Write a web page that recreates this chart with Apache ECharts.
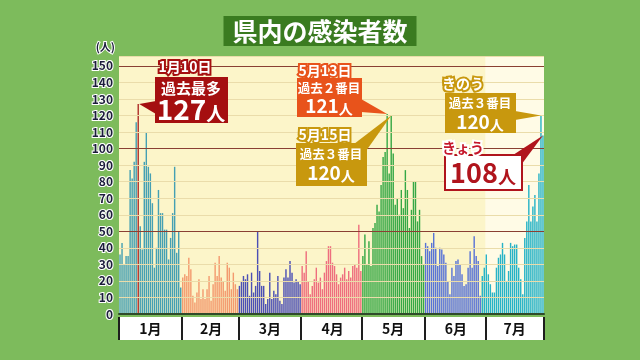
<!DOCTYPE html>
<html><head><meta charset="utf-8">
<script src="https://cdn.jsdelivr.net/npm/echarts@6/dist/echarts.min.js"></script>
<style>html,body{margin:0;padding:0;background:#7dbb5c}#c{width:640px;height:360px}</style>
</head><body><div id="c"></div>
<script>
const titleText = '県内の感染者数';
const unitLabel = '(人)';
const monthLabels = ['1月','2月','3月','4月','5月','6月','7月'];
const jan = [36,43,30,35,35,87,82,92,116,127,53,39,92,110,89,85,67,28,40,75,61,61,51,51,33,46,61,89,37,50,16];
const feb = [22,24,23,34,27,11,7,13,21,9,15,9,15,23,8,18,31,23,35,22,20,14,31,28,15,25,18,15];
const mar = [17,20,23,21,24,11,25,13,17,50,26,17,17,6,9,25,9,14,12,23,8,6,22,27,22,32,25,19,21,20,18];
const apr = [29,25,38,20,12,17,21,28,19,22,15,25,32,41,41,31,29,24,18,22,24,28,21,26,22,29,30,28,54,26];
const may = [35,48,30,44,29,52,55,66,62,78,95,98,121,85,120,97,66,70,60,75,64,87,75,52,63,80,80,56,63,35,30];
const jun = [43,41,38,43,49,40,29,40,39,36,31,20,12,28,23,32,33,30,24,17,18,28,38,28,47,35,32,11,23,28];
const jul = [36,24,18,13,13,28,34,36,43,36,20,26,43,41,42,42,28,21,12,46,56,78,56,65,72,56,85,120,108];

const FONT = '"Noto Sans CJK JP","Noto Sans",sans-serif';
const monthColors = ['#45a0b3','#f39a6e','#4b4fb5','#ee6e7e','#35a845','#5873d6','#27b3c6'];
const months = [jan, feb, mar, apr, may, jun, jul];
const days = [], values = [], monthOf = [], dayOf = [];
const monthStart = new Set(), monthMid = new Set();
months.forEach((arr, m) => {
  monthStart.add(days.length);
  monthMid.add(days.length + Math.floor(arr.length / 2));
  arr.forEach((v, d) => { days.push((m+1) + '/' + (d+1)); values.push(v); monthOf.push(m); dayOf.push(d+1); });
});
const idxOf = (m, d) => days.indexOf(m + '/' + d);
const julStart = idxOf(7, 1);

function barColor(i) {
  const m = monthOf[i], d = dayOf[i];
  if (m === 0 && d === 10) return '#b0302a';
  if (m === 5 && d >= 29) return monthColors[6];
  return monthColors[m];
}

const chart = echarts.init(document.getElementById('c'), null, {renderer: 'canvas'});
const option = {
  backgroundColor: '#7dbb5c',
  animation: false,
  title: {
    text: titleText, left: 'center', top: 16, padding: [2, 9], backgroundColor: '#3a7b20',
    textStyle: {color: '#fff', fontSize: 25, fontWeight: 'bold', fontFamily: FONT, lineHeight: 26}
  },
  grid: {left: 119, right: 96, top: 56, bottom: 46, show: true, backgroundColor: '#fcf5c9', borderWidth: 0},
  xAxis: [
    {type: 'category', data: days, z: 4,
     axisLine: {lineStyle: {color: '#2f4a2a', width: 2}}, axisTick: {show: false}, axisLabel: {show: false}},
    {type: 'category', data: days, position: 'bottom', offset: 3,
     axisLine: {show: false},
     axisTick: {show: true, length: 23, interval: (i) => monthStart.has(i), lineStyle: {color: '#1e1e1e', width: 2}},
     axisLabel: {interval: (i) => monthMid.has(i), formatter: (v, i) => monthLabels[monthOf[i]], margin: 5,
       color: '#111', fontSize: 14, fontWeight: 'bold', fontFamily: FONT}}
  ],
  yAxis: {
    type: 'value', min: 0, max: 156, interval: 10, z: 3,
    name: unitLabel, nameLocation: 'end', nameGap: 4,
    nameTextStyle: {align: 'right', padding: [0, 4, 0, 0], color: '#1b1d3a', fontSize: 11, fontWeight: 'bold', fontFamily: FONT, textBorderColor: '#fff', textBorderWidth: 2},
    axisLine: {show: false}, axisTick: {show: false},
    axisLabel: {formatter: (v) => v > 150 ? '' : String(v), margin: 6, color: '#1b1d3a', fontSize: 12, fontWeight: 'bold', fontFamily: FONT, textBorderColor: '#fff', textBorderWidth: 2},
    splitLine: {lineStyle: {color: ['#8a3f33','#eadcaa','#eadcaa','#eadcaa','#eadcaa'], width: 1}}
  },
  series: [{
    type: 'bar', xAxisIndex: 0, barCategoryGap: '30%',
    data: values.map((v, i) => ({value: v, itemStyle: {color: barColor(i)}}))
  }],
  graphic: [{type: 'rect', z: -10, shape: {x: 119, y: 317, width: 426, height: 23}, style: {fill: '#fff'}}]
};
chart.setOption(option);

// light background for the current month: from the July 1 band edge to the plot's right edge
const gridRect = chart.getModel().getComponent('grid', 0).coordinateSystem.getRect();
const p0 = chart.convertToPixel({xAxisIndex: 0}, days[julStart]);
const p1 = chart.convertToPixel({xAxisIndex: 0}, days[julStart + 1]);
const julLeft = p0 - (p1 - p0) / 2;
chart.setOption({series: [{markArea: {silent: true, itemStyle: {color: '#fffbe6'},
  data: [[{x: julLeft, y: gridRect.y}, {x: gridRect.x + gridRect.width, y: gridRect.y + gridRect.height}]]}}]});

const tip = (i) => chart.convertToPixel({xAxisIndex: 0, yAxisIndex: 0}, [i, values[i]]);
function outlined(x, y, text, fill, stroke, size) {
  const font = 'bold ' + size + 'px ' + FONT;
  return [
    {type: 'text', z: 100, x, y, style: {text, fill: stroke, stroke, lineWidth: 4, lineJoin: 'round', font, align: 'center', verticalAlign: 'middle'}},
    {type: 'text', z: 101, x, y, style: {text, fill, font, align: 'center', verticalAlign: 'middle'}}
  ];
}
function plain(x, y, text, fill, size) {
  return {type: 'text', z: 101, x, y, style: {text, fill, font: 'bold ' + size + 'px ' + FONT, align: 'center', verticalAlign: 'middle'}};
}
function bigNum(x, y, num, fill, a, b) {
  return {type: 'text', z: 101, x, y, style: {text: '{a|' + num + '}{b|人}', fill, align: 'center', verticalAlign: 'middle',
    rich: {a: {fontSize: a, fontWeight: 'bold', fontFamily: FONT, fill, verticalAlign: 'bottom', lineHeight: a},
           b: {fontSize: b, fontWeight: 'bold', fontFamily: FONT, fill, verticalAlign: 'bottom', lineHeight: a}}}};
}
function box(x, y, w, h, fill, stroke) {
  return {type: 'rect', z: 99, shape: {x, y, width: w, height: h}, style: stroke ? {fill, stroke, lineWidth: 2} : {fill}};
}
function wedge(p1, p2, t, fill) {
  return {type: 'polygon', z: 98, shape: {points: [p1, p2, t]}, style: {fill}};
}
const iJan10 = idxOf(1, 10), iMay13 = idxOf(5, 13), iMay15 = idxOf(5, 15);
const iYest = values.length - 2, iToday = values.length - 1;
const t1 = tip(iJan10), t2 = tip(iMay13), t3 = tip(iMay15), t4 = tip(iYest), t5 = tip(iToday);
const RED = '#a50f10', ORG = '#e8531b', GOLD = '#c8980e', DRED = '#b0141c';
const g = [
  option.graphic[0],
  ...outlined(185, 67, '1月10日', '#fff', RED, 14),
  box(155, 77, 73, 46, RED),
  wedge([156, 101], [156, 114], [t1[0] + 1, t1[1]], RED),
  plain(191, 88, '過去最多', '#fff', 15),
  bigNum(191, 109, '127', '#fff', 28, 19),

  ...outlined(325, 71, '5月13日', '#fff', ORG, 14),
  box(297, 78, 65, 39, ORG),
  wedge([361, 99], [361, 112], [t2[0], t2[1]], ORG),
  plain(329, 88, '過去２番目', '#fff', 12.5),
  bigNum(329, 106, '121', '#fff', 19, 14),

  ...outlined(325, 135, '5月15日', '#fff', GOLD, 14),
  box(296, 143, 71, 43, GOLD),
  wedge([354, 144], [366, 151], [t3[0], t3[1]], GOLD),
  plain(331, 154, '過去３番目', '#fff', 12.5),
  bigNum(331, 173, '120', '#fff', 19, 14),

  ...outlined(463, 84, 'きのう', '#fff', GOLD, 14),
  box(445, 93, 71, 40, GOLD),
  wedge([515, 111], [515, 120], [t4[0], t4[1]], GOLD),
  plain(480, 103, '過去３番目', '#fff', 12.5),
  bigNum(480, 122, '120', '#fff', 19, 14),

  ...outlined(463, 148, 'きょう', '#c5162a', '#fff', 14),
  wedge([510, 157], [521, 165], [t5[0], t5[1]], DRED),
  box(445, 155, 77, 35, '#fff', DRED),
  bigNum(483, 173, '108', DRED, 27, 18)
];
chart.setOption({graphic: g}, {replaceMerge: ['graphic']});
</script></body></html>
